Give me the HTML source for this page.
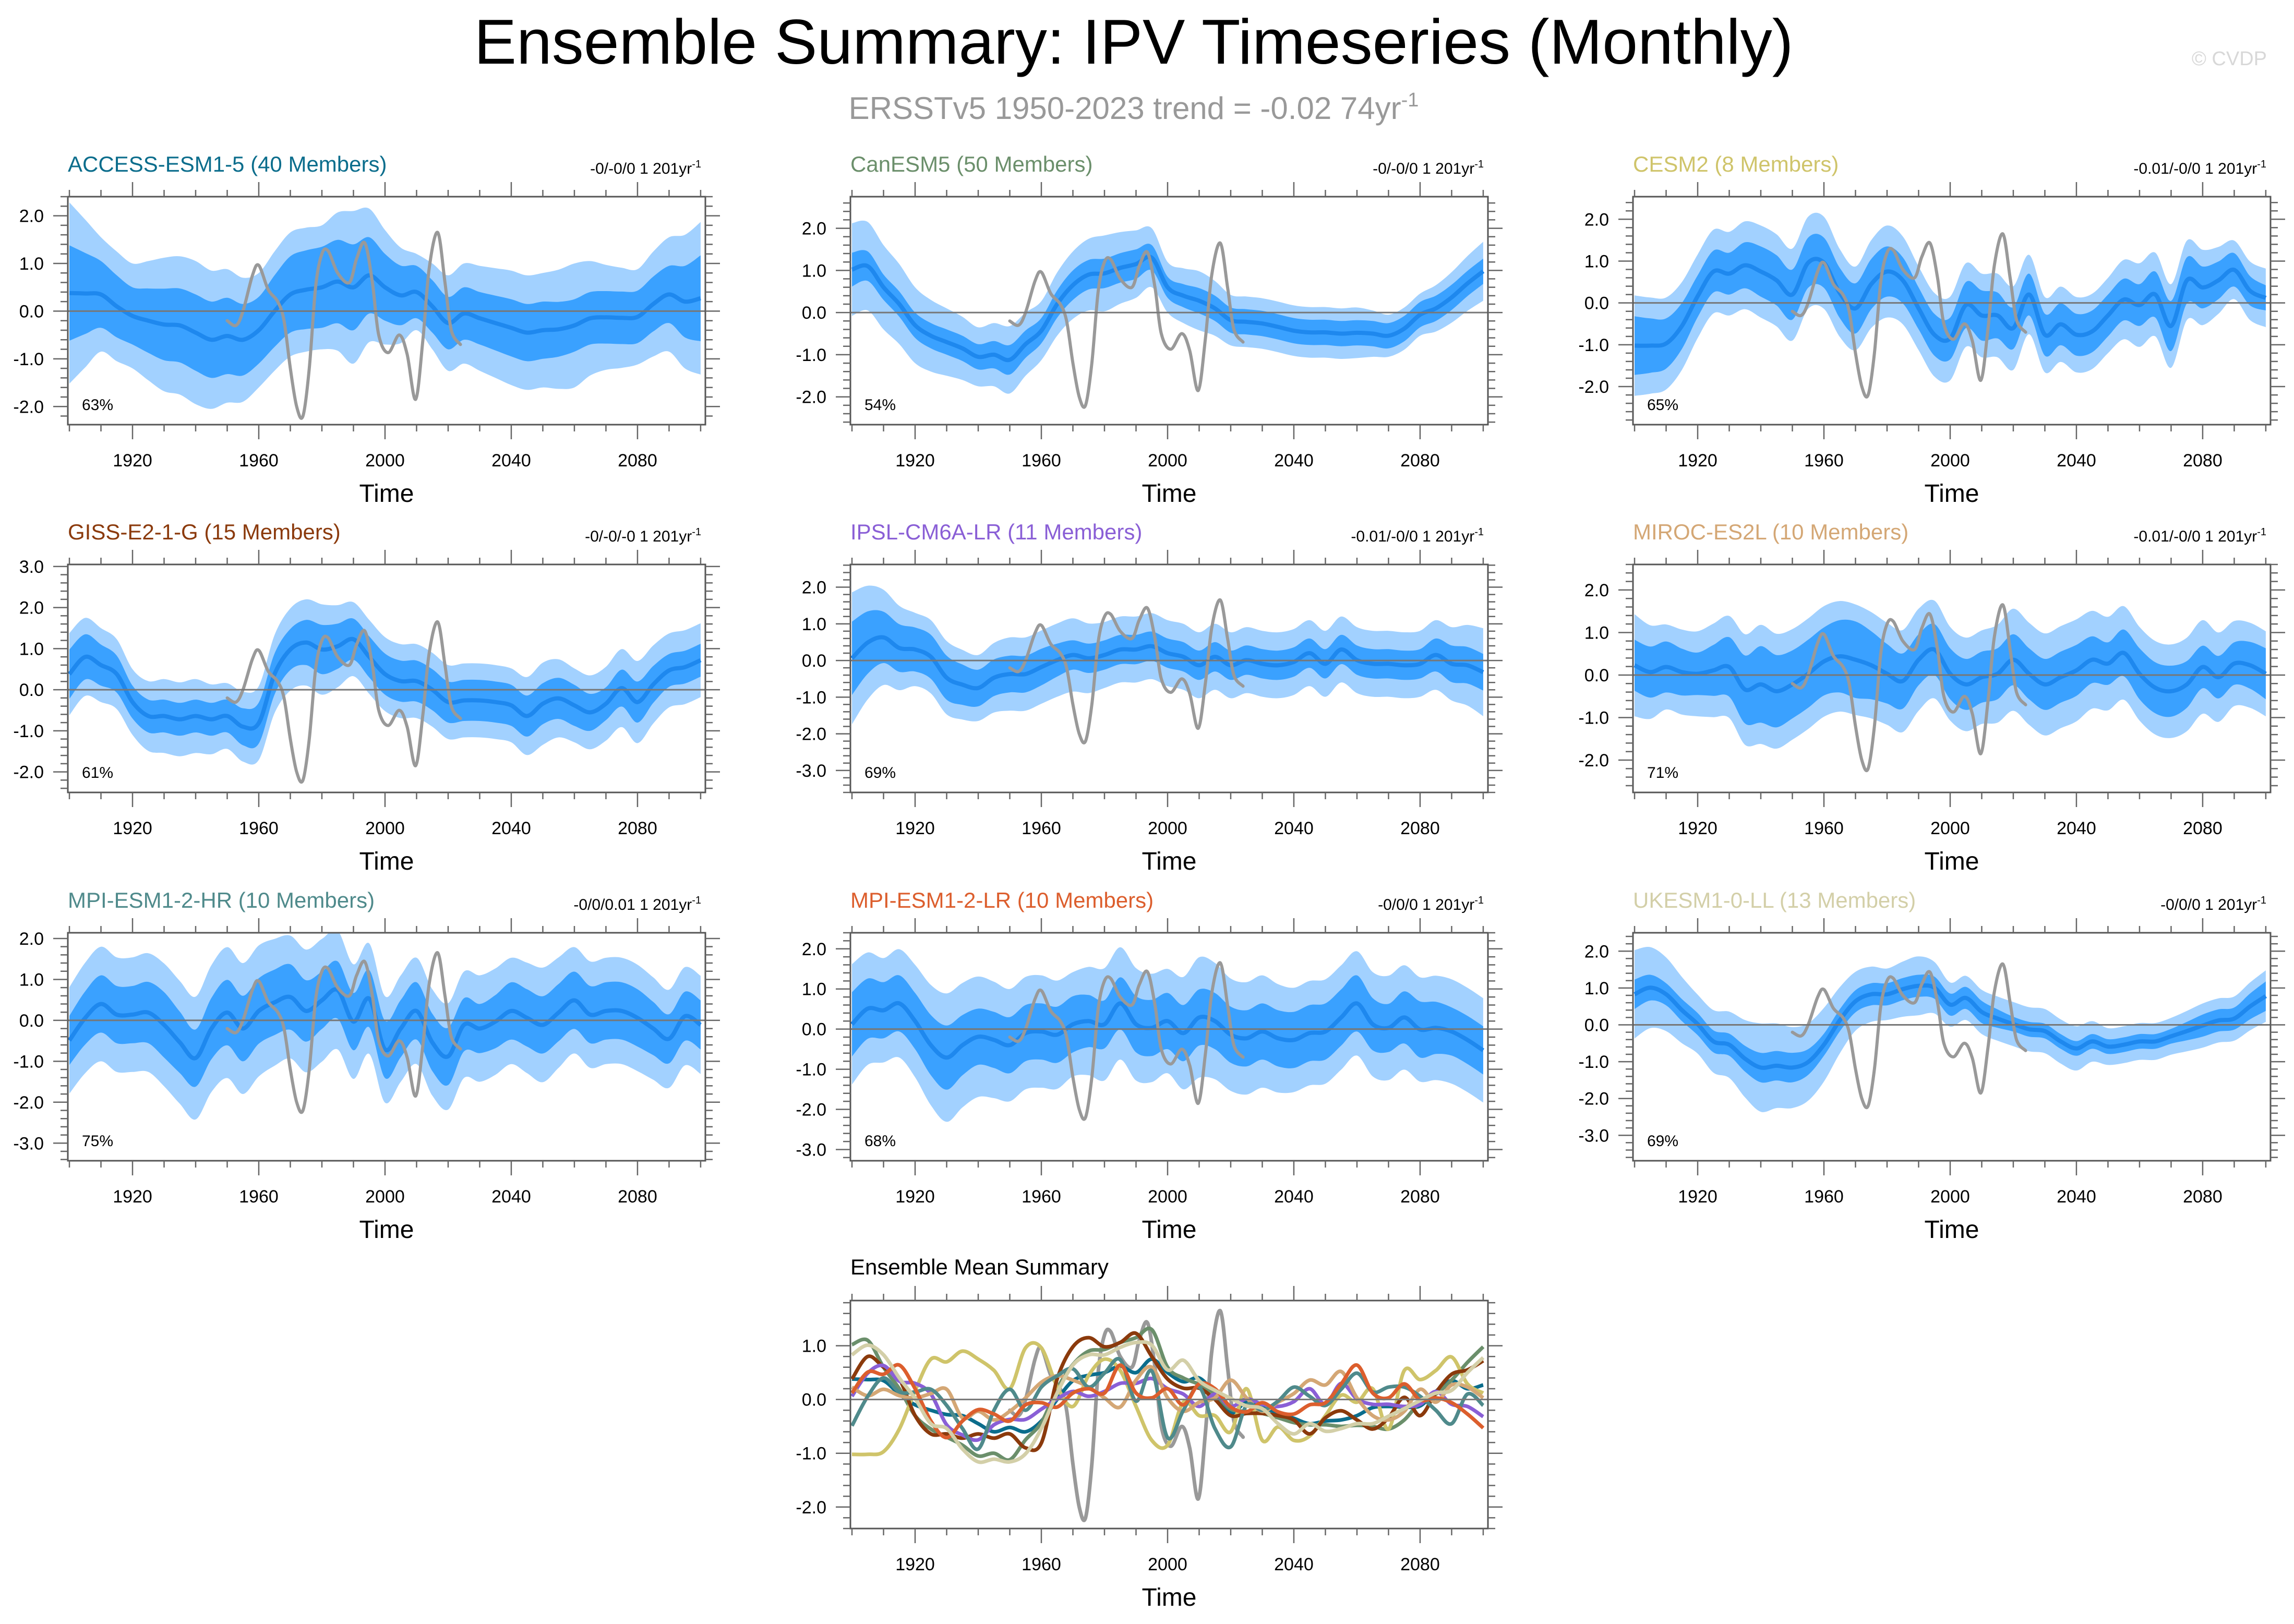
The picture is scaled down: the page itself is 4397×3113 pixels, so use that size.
<!DOCTYPE html>
<html><head><meta charset="utf-8"><title>Ensemble Summary: IPV Timeseries (Monthly)</title>
<style>
html,body{margin:0;padding:0;background:#fff;}
svg{display:block;font-family:"Liberation Sans",Arial,sans-serif;}
</style></head>
<body>
<svg id="chart" xmlns="http://www.w3.org/2000/svg" width="4397" height="3113" viewBox="0 0 4397 3113">
<rect x="0" y="0" width="4397" height="3113" fill="#fff"/>
<text x="2173" y="122" font-size="122" text-anchor="middle" fill="#000">Ensemble Summary: IPV Timeseries (Monthly)</text>
<text x="2173" y="228" font-size="60" text-anchor="middle" fill="#999">ERSSTv5 1950-2023 trend = -0.02 74yr<tspan dy="-24" font-size="38">-1</tspan></text>
<text x="4345" y="125" font-size="38" text-anchor="end" fill="#d8d8d8">© CVDP</text>
</svg>
<script>
// ---- data ----
const years = [1900,1905,1910,1915,1920,1925,1930,1935,1940,1945,1950,1955,1960,1965,1970,1975,1980,1985,1990,1995,2000,2005,2010,2015,2020,2025,2030,2035,2040,2045,2050,2055,2060,2065,2070,2075,2080,2085,2090,2095,2100];
const spreadYears = [1900,1910,1920,1930,1940,1950,1960,1970,1980,1990,2000,2010,2020,2030,2040,2050,2060,2070,2080,2090,2100];
const obsYears = [1950,1952.8,1955,1958,1960,1963,1966,1968,1970,1972,1974,1976,1978,1980,1982,1985,1988.7,1991,1993.6,1996,1998,2001,2004.5,2007,2009.7,2012,2014,2016.7,2019,2021,2023.9];
const obsValues = [-0.2,-0.3,0.0,0.75,0.96,0.45,0.2,-0.2,-1.2,-2.0,-2.2,-1.2,0.5,1.2,1.26,0.8,0.6,1.1,1.43,0.6,-0.5,-0.87,-0.5,-0.9,-1.85,-0.6,0.9,1.65,0.6,-0.4,-0.7];
const xTicks = [1920,1960,2000,2040,2080];

const accessMean = [0.38,0.37,0.35,0.1,-0.1,-0.2,-0.28,-0.3,-0.45,-0.6,-0.52,-0.6,-0.4,0.0,0.35,0.45,0.5,0.62,0.5,0.75,0.5,0.33,0.4,0.1,-0.25,-0.05,-0.15,-0.25,-0.35,-0.45,-0.4,-0.38,-0.3,-0.15,-0.13,-0.14,-0.12,0.15,0.35,0.2,0.27];
const accessInner = [1.0,0.7,0.6,0.75,0.8,0.8,0.7,0.8,0.85,0.9,0.7,0.55,0.55,0.55,0.6,0.6,0.55,0.55,0.55,0.6,0.9];
const accessOuter = [1.9,1.2,1.1,1.4,1.5,1.4,1.2,1.3,1.3,1.6,1.2,0.8,1.0,1.1,1.2,1.2,1.3,1.1,1.0,1.2,1.6];

const canMean = [1.02,1.1,0.6,0.2,-0.3,-0.55,-0.7,-0.85,-1.05,-1.0,-1.12,-0.75,-0.43,0.2,0.65,0.9,0.93,1.06,1.15,1.3,0.6,0.4,0.28,0.1,-0.18,-0.22,-0.26,-0.34,-0.43,-0.47,-0.47,-0.5,-0.48,-0.5,-0.55,-0.38,-0.05,0.1,0.36,0.69,0.98];
const canInner = [0.4,0.3,0.3,0.3,0.3,0.35,0.3,0.35,0.35,0.35,0.25,0.3,0.3,0.3,0.3,0.3,0.3,0.3,0.3,0.3,0.3];
const canOuter = [1.1,1.0,0.9,0.8,0.7,0.8,0.7,0.8,0.9,0.8,0.6,0.7,0.6,0.6,0.6,0.6,0.6,0.5,0.5,0.6,0.7];

const cesmMean = [-1.02,-1.02,-0.97,-0.55,0.16,0.75,0.7,0.9,0.75,0.54,0.2,0.96,0.96,0.24,-0.13,0.45,0.75,0.54,-0.13,-0.76,-0.85,-0.05,-0.3,-0.3,-0.6,0.2,-0.76,-0.51,-0.76,-0.68,-0.3,0.08,-0.05,0.2,-0.55,0.54,0.37,0.54,0.79,0.29,0.12];
const cesmInner = [0.7,0.6,0.5,0.5,0.6,0.6,0.6,0.6,0.6,0.5,0.5,0.6,0.5,0.5,0.5,0.5,0.5,0.6,0.5,0.4,0.3];
const cesmOuter = [1.2,1.1,1.0,1.0,1.1,1.1,1.1,1.0,1.1,1.0,1.0,1.0,1.0,0.9,0.9,0.9,1.0,1.0,0.9,0.7,0.7];

const gissMean = [0.38,0.8,0.6,0.38,-0.3,-0.64,-0.64,-0.72,-0.64,-0.72,-0.64,-0.9,-0.81,0.38,0.98,1.15,0.98,1.06,1.23,0.8,0.38,0.21,0.21,0.0,-0.3,-0.26,-0.26,-0.3,-0.38,-0.64,-0.34,-0.21,-0.38,-0.55,-0.34,0.04,-0.3,0.13,0.47,0.55,0.72];
const gissInner = [0.6,0.5,0.4,0.4,0.4,0.4,0.5,0.5,0.6,0.5,0.5,0.5,0.5,0.5,0.5,0.5,0.5,0.4,0.5,0.4,0.4];
const gissOuter = [1.0,0.9,0.8,0.9,0.9,0.8,0.9,1.0,1.1,0.9,0.9,0.9,0.9,0.9,0.9,1.0,0.9,0.9,1.0,0.9,0.9];

const ipslMean = [0.06,0.49,0.63,0.34,0.3,0.1,-0.47,-0.66,-0.75,-0.47,-0.37,-0.37,-0.18,0.01,0.15,0.06,0.15,0.3,0.3,0.39,0.2,0.1,-0.13,0.1,-0.13,0.01,-0.09,-0.13,-0.04,0.2,-0.09,0.3,0.01,-0.09,-0.09,-0.13,-0.09,0.15,-0.09,-0.13,-0.32];
const ipslInner = [1.0,0.7,0.6,0.6,0.5,0.5,0.5,0.4,0.4,0.4,0.4,0.4,0.4,0.4,0.4,0.4,0.4,0.4,0.4,0.5,0.5];
const ipslOuter = [1.8,1.3,1.0,1.0,0.9,1.0,1.0,1.0,0.9,0.9,0.9,0.9,0.9,0.9,0.9,0.9,0.9,0.9,0.9,1.0,1.2];

const mirocMean = [0.23,0.07,0.19,0.07,0.03,0.11,0.19,-0.34,-0.22,-0.38,-0.22,0.03,0.32,0.44,0.36,0.23,0.03,-0.14,0.36,0.6,0.03,-0.22,-0.05,0.03,0.36,0.03,-0.22,-0.05,0.11,0.36,0.27,0.52,0.03,-0.3,-0.38,-0.22,0.19,-0.05,0.27,0.23,0.03];
const mirocInner = [0.6,0.6,0.5,0.7,0.9,0.8,0.8,0.9,0.7,0.6,0.6,0.6,0.6,0.6,0.6,0.5,0.6,0.6,0.5,0.5,0.6];
const mirocOuter = [1.2,1.0,1.0,1.2,1.4,1.3,1.3,1.3,1.2,1.2,1.1,1.1,1.2,1.2,1.2,1.1,1.1,1.1,1.1,1.0,1.0];

const mpihrMean = [-0.49,0.06,0.4,0.14,0.14,0.19,-0.11,-0.54,-0.92,-0.2,0.19,-0.2,0.23,0.44,0.57,0.23,0.49,0.74,-0.03,0.53,-0.71,-0.2,0.23,-0.54,-0.88,-0.11,-0.2,-0.03,0.23,0.06,-0.11,0.19,0.49,0.14,0.23,0.23,0.06,-0.2,-0.45,0.1,-0.11];
const mpihrInner = [0.6,0.7,0.7,0.8,0.7,0.8,0.8,0.8,0.7,0.7,0.7,0.7,0.7,0.6,0.7,0.7,0.7,0.7,0.7,0.6,0.6];
const mpihrOuter = [1.3,1.4,1.4,1.5,1.5,1.6,1.6,1.5,1.5,1.4,1.3,1.3,1.3,1.3,1.3,1.4,1.3,1.3,1.3,1.2,1.2];

const mpilrMean = [0.12,0.51,0.47,0.64,0.2,-0.4,-0.71,-0.4,-0.19,-0.27,-0.4,-0.1,-0.06,-0.14,0.12,0.2,0.12,0.64,0.12,0.03,0.2,-0.1,0.29,0.2,-0.14,-0.23,-0.06,-0.23,-0.27,-0.1,-0.06,0.29,0.64,0.12,0.03,0.29,-0.01,0.03,-0.06,-0.27,-0.53];
const mpilrInner = [0.8,0.7,0.7,0.8,0.7,0.7,0.7,0.7,0.6,0.7,0.7,0.7,0.7,0.7,0.7,0.7,0.7,0.6,0.7,0.6,0.6];
const mpilrOuter = [1.5,1.3,1.4,1.6,1.5,1.4,1.4,1.3,1.4,1.4,1.3,1.5,1.4,1.4,1.3,1.3,1.3,1.3,1.3,1.3,1.3];

const ukesmMean = [0.83,1.01,0.83,0.4,0.02,-0.45,-0.54,-0.92,-1.16,-1.11,-1.16,-1.01,-0.54,0.12,0.64,0.83,0.83,0.97,1.06,1.01,0.55,0.73,0.35,0.17,0.02,-0.12,-0.17,-0.45,-0.64,-0.45,-0.59,-0.54,-0.45,-0.45,-0.31,-0.17,-0.02,0.12,0.17,0.5,0.78];
const ukesmInner = [0.4,0.3,0.3,0.3,0.4,0.4,0.3,0.3,0.3,0.3,0.3,0.3,0.2,0.2,0.2,0.2,0.2,0.2,0.3,0.3,0.4];
const ukesmOuter = [1.2,1.0,0.8,0.9,1.2,1.1,1.0,0.8,0.7,0.8,0.6,0.6,0.6,0.6,0.6,0.5,0.5,0.5,0.6,0.6,0.7];

const modelNames = ["ACCESS-ESM1-5","CanESM5","CESM2","GISS-E2-1-G","IPSL-CM6A-LR","MIROC-ES2L","MPI-ESM1-2-HR","MPI-ESM1-2-LR","UKESM1-0-LL"];
const memberCounts = [40,50,8,15,11,10,10,10,13];
const trendLabels = ["-0/-0/0 1 201yr","-0/-0/0 1 201yr","-0.01/-0/0 1 201yr","-0/-0/-0 1 201yr","-0.01/-0/0 1 201yr","-0.01/-0/0 1 201yr","-0/0/0.01 1 201yr","-0/0/0 1 201yr","-0/0/0 1 201yr"];
const percentLabels = ["63%","54%","65%","61%","69%","71%","75%","68%","69%"];
const yTickSets = [[-2,-1,0,1,2],[-2,-1,0,1,2],[-2,-1,0,1,2],[-2,-1,0,1,2,3],[-3,-2,-1,0,1,2],[-2,-1,0,1,2],[-3,-2,-1,0,1,2],[-3,-2,-1,0,1,2],[-3,-2,-1,0,1,2]];
const yRanges = [[-2.38,2.4],[-2.66,2.75],[-2.91,2.54],[-2.5,3.05],[-3.6,2.62],[-2.76,2.6],[-3.43,2.14],[-3.28,2.4],[-3.69,2.5]];
const means = [accessMean,canMean,cesmMean,gissMean,ipslMean,mirocMean,mpihrMean,mpilrMean,ukesmMean];
const inners = [accessInner,canInner,cesmInner,gissInner,ipslInner,mirocInner,mpihrInner,mpilrInner,ukesmInner];
const outers = [accessOuter,canOuter,cesmOuter,gissOuter,ipslOuter,mirocOuter,mpihrOuter,mpilrOuter,ukesmOuter];
const summaryTicks = [-2,-1,0,1];
const summaryRange = [-2.4,1.84];

// ---- styles / layout (not data) ----
const modelColors = ["#0b6d8c","#6b8f6b","#cfc46a","#8b3a0c","#8a5fd6","#d4a775","#4f8a8b","#dc5e2d","#d3cfa8"];
const colX = [130,1630,3130], rowY = [377,1082,1788,2493];
const W = 1222, H = 437, X0 = 1899.5, X1 = 2101.5;
const svg = document.getElementById('chart');
const NS = 'http://www.w3.org/2000/svg';

function mk(tag, attrs, parent){
  const e = document.createElementNS(NS, tag);
  for (const k in attrs) e.setAttribute(k, attrs[k]);
  (parent||svg).appendChild(e);
  return e;
}
function interp(xs, ys, x){
  if (x <= xs[0]) return ys[0];
  for (let i=1;i<xs.length;i++){ if (x <= xs[i]){ const t=(x-xs[i-1])/(xs[i]-xs[i-1]); return ys[i-1]+t*(ys[i]-ys[i-1]); } }
  return ys[ys.length-1];
}
function smoothPath(pts, move){
  let d = (move ? 'M' : 'L') + pts[0][0].toFixed(1)+','+pts[0][1].toFixed(1);
  for (let i=0;i<pts.length-1;i++){
    const p0=pts[Math.max(0,i-1)], p1=pts[i], p2=pts[i+1], p3=pts[Math.min(pts.length-1,i+2)];
    const c1=[p1[0]+(p2[0]-p0[0])/6, p1[1]+(p2[1]-p0[1])/6];
    const c2=[p2[0]-(p3[0]-p1[0])/6, p2[1]-(p3[1]-p1[1])/6];
    d += 'C'+c1[0].toFixed(1)+','+c1[1].toFixed(1)+' '+c2[0].toFixed(1)+','+c2[1].toFixed(1)+' '+p2[0].toFixed(1)+','+p2[1].toFixed(1);
  }
  return d;
}
function fmt(v){ return v.toFixed(1); }

function drawFrame(g, left, top, xs, ys, ticks, yr){
  const zl = mk('line',{x1:left,x2:left+W,y1:ys(0),y2:ys(0),stroke:'#777','stroke-width':3},g);
  
  
  const box = mk('rect',{x:left,y:top,width:W,height:H,fill:'none',stroke:'#555','stroke-width':3},g);
  
  
  let d = '';
  for (let yv=1900; yv<=2100; yv+=10){
    const x = xs(yv), major = xTicks.indexOf(yv) >= 0, L = major ? 28 : 13;
    d += 'M'+x+','+(top+H)+'v'+L+'M'+x+','+top+'v'+(-L);
  }
  for (let k=Math.ceil(yr[0]*5); k<=Math.floor(yr[1]*5); k++){
    const v = k/5, y = ys(v), major = (k%5===0), L = major ? 28 : 14;
    d += 'M'+left+','+y+'h'+(-L)+'M'+(left+W)+','+y+'h'+L;
  }
  const tk = mk('path',{d:d,stroke:'#666','stroke-width':2.5,fill:'none'},g);
  
  
  xTicks.forEach(t=>{
    const tl = mk('text',{x:xs(t),y:top+H+80,'font-size':34,'text-anchor':'middle',fill:'#000'},g);
    tl.textContent = String(t);
    
    
  });
  ticks.forEach(t=>{
    const tl = mk('text',{x:left-46,y:ys(t)+12,'font-size':34,'text-anchor':'end',fill:'#000'},g);
    tl.textContent = fmt(t);
    
    
  });
  const xt = mk('text',{x:left+W/2,y:top+H+148,'font-size':48,'text-anchor':'middle',fill:'#000'},g);
  xt.textContent = 'Time';
  
  
}

function drawObs(g, xs, ys, width){
  const pts = obsYears.map((yv,i)=>[xs(yv), ys(obsValues[i])]);
  const p = mk('path',{d:smoothPath(pts,true),fill:'none',stroke:'#999','stroke-width':width,'stroke-linecap':'round'},g);
  
  
}

for (let m=0;m<9;m++){
  const left = colX[m%3], top = rowY[Math.floor(m/3)], yr = yRanges[m];
  const xs = v => left + (v-X0)/(X1-X0)*W;
  const ys = v => top + (yr[1]-v)/(yr[1]-yr[0])*H;
  const g = mk('g',{});
  
  
  const cp = mk('clipPath',{id:'clip'+m},g);
  mk('rect',{x:left,y:top,width:W,height:H},cp);
  const gc = mk('g',{'clip-path':'url(#clip'+m+')'},g);
  const mean = means[m];
  const bands = [[outers[m],'#a2d1ff','outer-spread-band'],[inners[m],'#3aa1ff','inner-spread-band']];
  bands.forEach(b=>{
    const hi = years.map((yv,i)=>[xs(yv), ys(mean[i]+interp(spreadYears,b[0],yv))]);
    const lo = years.map((yv,i)=>[xs(yv), ys(mean[i]-interp(spreadYears,b[0],yv))]).reverse();
    const p = mk('path',{d:smoothPath(hi,true)+smoothPath(lo,false)+'Z',fill:b[1],stroke:'none'},gc);
    
    
  });
  const mp = mk('path',{d:smoothPath(years.map((yv,i)=>[xs(yv),ys(mean[i])]),true),fill:'none',stroke:'#1e88ee','stroke-width':8},gc);
  
  
  drawObs(gc, xs, ys, 6);
  drawFrame(g, left, top, xs, ys, yTickSets[m], yr);
  const t = mk('text',{x:left,y:top-48,'font-size':42,fill:modelColors[m]},g);
  t.textContent = modelNames[m]+' ('+memberCounts[m]+' Members)';
  
  
  const tr = mk('text',{x:left+W-8,y:top-44,'font-size':30,'text-anchor':'end',fill:'#000'},g);
  tr.textContent = trendLabels[m];
  const sup = mk('tspan',{dy:-12,'font-size':20},tr);
  sup.textContent = '-1';
  
  
  const pc = mk('text',{x:left+27,y:top+H-28,'font-size':30,fill:'#000'},g);
  pc.textContent = percentLabels[m];
  
  
}

(function(){
  const left = colX[1], top = rowY[3], yr = summaryRange;
  const xs = v => left + (v-X0)/(X1-X0)*W;
  const ys = v => top + (yr[1]-v)/(yr[1]-yr[0])*H;
  const g = mk('g',{});
  
  
  const cp = mk('clipPath',{id:'clipS'},g);
  mk('rect',{x:left,y:top,width:W,height:H},cp);
  const gc = mk('g',{'clip-path':'url(#clipS)'},g);
  drawObs(gc, xs, ys, 7);
  for (let m=0;m<9;m++){
    const p = mk('path',{d:smoothPath(years.map((yv,i)=>[xs(yv),ys(means[m][i])]),true),fill:'none',stroke:modelColors[m],'stroke-width':7},gc);
    
    
  }
  drawFrame(g, left, top, xs, ys, summaryTicks, yr);
  const t = mk('text',{x:left,y:top-50,'font-size':42,fill:'#000'},g);
  t.textContent = 'Ensemble Mean Summary';
  
  
})();
</script>
</body></html>
